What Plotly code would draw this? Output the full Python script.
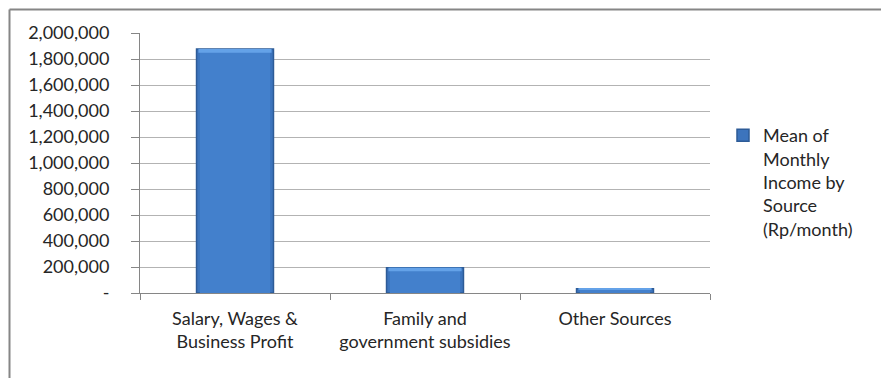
import plotly.graph_objects as go

# Mean monthly household income by source (Rp/month)
categories = [
    "Salary, Wages &<br>Business Profit",
    "Family and<br>government subsidies",
    "Other Sources",
]
mean_income = [1877000, 195000, 33000]
series_name = "Mean of<br>Monthly<br>Income by<br>Source<br>(Rp/month)"

y_tickvals = list(range(0, 2000001, 200000))
y_ticktext = ["-"] + [f"{v:,}" for v in y_tickvals[1:]]

FONT = "Lato, 'Open Sans', sans-serif"
TEXT = "#262626"
AXIS = "#868686"
GRID = "#b3b3b3"
FS = 18

fig = go.Figure()

# layered bars give the bevelled look: dark rim, body, light top edge
fig.add_trace(go.Bar(
    x=categories, y=mean_income, name=series_name, width=0.405,
    marker=dict(color="#3c74bd", line=dict(color="#2d5b97", width=1.5)),
    showlegend=True,
))
fig.add_trace(go.Bar(
    x=categories, y=mean_income, width=0.37,
    marker=dict(color="#4380cc", line=dict(width=0)),
    showlegend=False, hoverinfo="skip",
))
top_edge = [min(v * 0.25, 28000) for v in mean_income]
fig.add_trace(go.Bar(
    x=categories, y=top_edge, base=[v - h for v, h in zip(mean_income, top_edge)],
    width=0.385,
    marker=dict(color="#64a2e8", line=dict(width=0)),
    showlegend=False, hoverinfo="skip",
))

W, H = 881, 378
L, R, T, B = 140, 171, 33, 85
pw, ph = W - L - R, H - T - B


def px_x(x):
    return (x - L) / pw


def px_y(y):
    return (H - B - y) / ph


fig.update_layout(
    width=W, height=H,
    margin=dict(l=L, r=R, t=T, b=B, pad=0),
    paper_bgcolor="white", plot_bgcolor="white",
    barmode="overlay",
    font=dict(family=FONT, size=FS, color=TEXT),
    showlegend=True,
    legend=dict(
        x=px_x(723), y=px_y(117), xanchor="left", yanchor="top",
        valign="top", font=dict(family=FONT, size=FS, color=TEXT),
        bgcolor="rgba(0,0,0,0)", itemclick=False,
    ),
    shapes=[
        dict(type="line", xref="paper", yref="paper",
             x0=px_x(9.5), x1=px_x(900), y0=px_y(9.5), y1=px_y(9.5),
             line=dict(color=AXIS, width=2)),
        dict(type="line", xref="paper", yref="paper",
             x0=px_x(9.5), x1=px_x(9.5), y0=px_y(9.5), y1=px_y(400),
             line=dict(color=AXIS, width=2)),
    ],
)

fig.update_yaxes(
    range=[0, 2000000], tickvals=y_tickvals, ticktext=y_ticktext,
    showgrid=True, gridcolor=GRID, gridwidth=1,
    showline=True, linecolor=AXIS, linewidth=1,
    ticks="outside", ticklen=8, tickcolor=AXIS,
    ticklabelstandoff=18, zeroline=False,
    tickfont=dict(family=FONT, size=FS, color=TEXT),
)
fig.update_xaxes(
    showline=True, linecolor=AXIS, linewidth=1,
    ticks="outside", ticklen=6, tickcolor=AXIS, tickson="boundaries",
    showgrid=False, ticklabelstandoff=9,
    tickfont=dict(family=FONT, size=FS, color=TEXT),
)

fig.write_html("out.html")
